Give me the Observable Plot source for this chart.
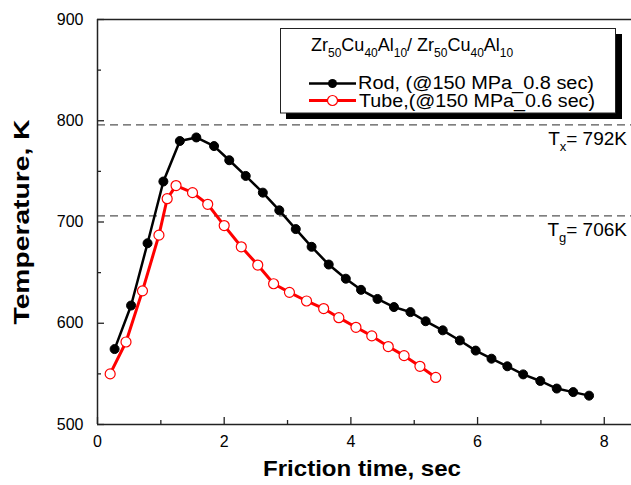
<!DOCTYPE html>
<html><head><meta charset="utf-8">
<script src="https://cdn.jsdelivr.net/npm/d3@7"></script>
<script src="https://cdn.jsdelivr.net/npm/@observablehq/plot@0.6"></script>
<style>body{margin:0;background:#fff} svg{display:block}</style>
</head><body><div id="chart"></div>
<script>
// ---- data ----
const rodTime = [0.27,0.53,0.79,1.04,1.30,1.56,1.84,2.08,2.34,2.61,2.87,3.13,3.38,3.65,3.92,4.16,4.42,4.68,4.94,5.18,5.45,5.72,5.97,6.22,6.47,6.72,6.99,7.25,7.51,7.76];
const rodTemp = [574.5,617.5,679,740,780,783.5,775,761,745.5,729,711.5,693,675.5,658,644,633,624,616,611,602,593,583,573,565,557.5,549.5,543,535.5,532,528.5];
const tubeTime = [0.20,0.45,0.71,0.97,1.10,1.24,1.50,1.74,2.00,2.27,2.53,2.78,3.03,3.30,3.57,3.81,4.08,4.33,4.59,4.84,5.09,5.34];
const tubeTemp = [550,581.5,632,687,723,736,729,717.5,696.5,675.5,657.5,639,630.5,622,614.5,605.5,596,587.5,577,568,557.5,546.5];
const xTickLabels = [0,2,4,6,8];
const xMinorTicks = [1,3,5,7];
const yTickLabels = [500,600,700,800,900];
const yMinorTicks = [550,650,750,850];
const thresholdLines = [796, 706];
const thresholdSymbols = ["T","T"];
const thresholdSubs = ["x","g"];
const thresholdTexts = ["= 792K","= 706K"];
const legendTitleParts = [["Zr","50"],["Cu","40"],["Al","10"],["/ Zr","50"],["Cu","40"],["Al","10"]];
const seriesNames = ["Rod, (@150 MPa_0.8 sec)", "Tube,(@150 MPa_0.6 sec)"];
const xTitle = "Friction time, sec";
const yTitle = "Temperature, K";

const rod = rodTime.map((t, i) => ({t, T: rodTemp[i]}));
const tube = tubeTime.map((t, i) => ({t, T: tubeTemp[i]}));

const W = 631, H = 485, mL = 97, mR = 0, mT = 19, mB = 61;
const plotW = W - mL - mR, plotH = H - mT - mB;
const FONT = "'Liberation Sans', Arial, Helvetica, sans-serif";

const chart = Plot.plot({
  width: W, height: H,
  marginLeft: mL, marginRight: mR, marginTop: mT, marginBottom: mB,
  style: {fontFamily: FONT, fontSize: "16px", background: "white", color: "black", overflow: "visible"},
  x: {domain: [0, 8.43]},
  y: {domain: [500, 900]},
  marks: [
    Plot.ruleY(thresholdLines, {stroke: "#555", strokeWidth: 1.3, strokeDasharray: "8,5"}),
    Plot.ruleX(xTickLabels, {x: d => d, insetTop: plotH - 7, stroke: "#222", strokeWidth: 1.3}),
    Plot.ruleX(xMinorTicks, {x: d => d, insetTop: plotH - 4, stroke: "#222", strokeWidth: 1.3}),
    Plot.ruleY(yTickLabels, {y: d => d, insetRight: plotW - 7, stroke: "#222", strokeWidth: 1.3}),
    Plot.ruleY(yMinorTicks, {y: d => d, insetRight: plotW - 4, stroke: "#222", strokeWidth: 1.3}),
    Plot.line(rod, {x: "t", y: "T", stroke: "black", strokeWidth: 2.5}),
    Plot.dot(rod, {x: "t", y: "T", r: 4.5, fill: "black", stroke: "black", strokeWidth: 1}),
    Plot.line(tube, {x: "t", y: "T", stroke: "#ff0000", strokeWidth: 3}),
    Plot.dot(tube, {x: "t", y: "T", r: 5, fill: "white", stroke: "#ff0000", strokeWidth: 1.2}),
    Plot.axisX({ticks: xTickLabels, tickSize: 0, tickPadding: 11, label: null, fill: "black"}),
    Plot.axisY({ticks: yTickLabels, tickSize: 0, tickPadding: 14, label: null, fill: "black"}),
    Plot.ruleX([0], {stroke: "#222", strokeWidth: 1.5}),
    Plot.ruleY([500, 900], {stroke: "#222", strokeWidth: 1.5})
  ]
});
document.getElementById("chart").appendChild(chart);

const svg = d3.select(chart);
const yScale = chart.scale("y");

// threshold annotations
thresholdLines.forEach((v, i) => {
  const t = svg.append("text")
    .attr("x", 627).attr("y", yScale.apply(v) + 21)
    .attr("text-anchor", "end").attr("font-family", FONT).attr("font-size", 19).attr("fill", "black");
  t.append("tspan").text(thresholdSymbols[i]);
  t.append("tspan").attr("font-size", 13).attr("dy", 6).text(thresholdSubs[i]);
  t.append("tspan").attr("dy", -6).text(thresholdTexts[i]);
});

// axis titles
svg.append("text")
  .attr("x", 362).attr("y", 476).attr("text-anchor", "middle")
  .attr("font-family", FONT).attr("font-weight", "bold").attr("font-size", 22)
  .attr("textLength", 198).attr("lengthAdjust", "spacingAndGlyphs")
  .attr("fill", "black").text(xTitle);
svg.append("text")
  .attr("transform", "translate(29,222) rotate(-90)").attr("text-anchor", "middle")
  .attr("font-family", FONT).attr("font-weight", "bold").attr("font-size", 22)
  .attr("textLength", 205).attr("lengthAdjust", "spacingAndGlyphs")
  .attr("fill", "black").text(yTitle);

// legend
const lg = svg.append("g").attr("font-family", FONT).attr("fill", "black").attr("text-anchor", "start");
lg.append("rect").attr("x", 286).attr("y", 34).attr("width", 336).attr("height", 85).attr("fill", "black");
lg.append("rect").attr("x", 280.5).attr("y", 28.5).attr("width", 335).attr("height", 84.5)
  .attr("fill", "white").attr("stroke", "#222").attr("stroke-width", 1);
const tt = lg.append("text").attr("x", 311).attr("y", 51).attr("font-size", 18).attr("text-anchor", "start");
legendTitleParts.forEach(([main, sub], i) => {
  tt.append("tspan").attr("dy", i === 0 ? 0 : -6).text(main);
  tt.append("tspan").attr("font-size", 12).attr("dy", 6).text(sub);
});
// Rod row
lg.append("line").attr("x1", 309).attr("x2", 356).attr("y1", 83.5).attr("y2", 83.5)
  .attr("stroke", "black").attr("stroke-width", 2.5);
lg.append("circle").attr("cx", 332.5).attr("cy", 83.5).attr("r", 4.5).attr("fill", "black");
lg.append("text").attr("x", 358).attr("y", 89).attr("font-size", 18).attr("text-anchor", "start")
  .attr("textLength", 236).attr("lengthAdjust", "spacingAndGlyphs").text(seriesNames[0]);
// Tube row
lg.append("line").attr("x1", 309).attr("x2", 356).attr("y1", 100.5).attr("y2", 100.5)
  .attr("stroke", "#ff0000").attr("stroke-width", 3);
lg.append("circle").attr("cx", 332.5).attr("cy", 100.5).attr("r", 5).attr("fill", "white")
  .attr("stroke", "#ff0000").attr("stroke-width", 1.2);
lg.append("text").attr("x", 359).attr("y", 107).attr("font-size", 18).attr("text-anchor", "start")
  .attr("textLength", 236).attr("lengthAdjust", "spacingAndGlyphs").text(seriesNames[1]);
</script>
</body></html>
